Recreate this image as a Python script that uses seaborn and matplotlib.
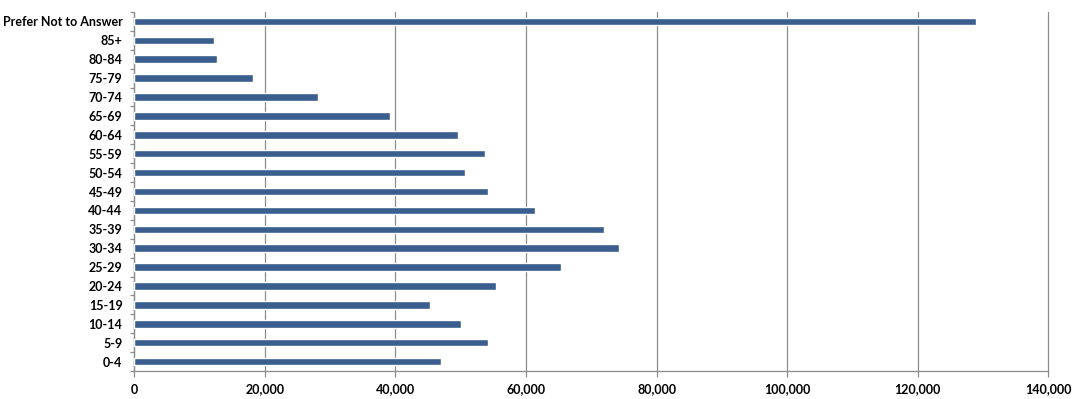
import pandas as pd
import numpy as np
import matplotlib.pyplot as plt
import seaborn as sns
from matplotlib.ticker import FuncFormatter, MultipleLocator

# ── Data ───────────────────────────────────────────────────────────────────────

age_groups = ["Prefer Not to Answer", "85+", "80-84", "75-79", "70-74", "65-69",
              "60-64", "55-59", "50-54", "45-49", "40-44", "35-39", "30-34",
              "25-29", "20-24", "15-19", "10-14", "5-9", "0-4"]
counts = [129000, 12200, 12700, 18200, 28100, 39200,
          49600, 53700, 50600, 54200, 61400, 71900, 74200,
          65300, 55400, 45300, 50000, 54200, 47000]

df = pd.DataFrame({"age": age_groups, "count": counts})

# ── Setup ──────────────────────────────────────────────────────────────────────

sns.set_theme(style="white")
plt.rcParams["font.family"] = ["Lato", "DejaVu Sans"]

fig = plt.figure(figsize=(10.79, 3.99), dpi=100)
ax = fig.add_axes([134.3 / 1079, 1 - 371 / 399, 914 / 1079, 359 / 399])

sns.barplot(data=df, x="count", y="age", order=age_groups, orient="h",
            color="#3A5F8F", saturation=1, width=0.4, ax=ax, zorder=3)

# ── Axes styling ───────────────────────────────────────────────────────────────

ax.set_xlim(0, 140000)
ax.set_ylim(len(age_groups) - 0.5, -0.5)
ax.xaxis.set_major_locator(MultipleLocator(20000))
ax.xaxis.set_major_formatter(FuncFormatter(lambda v, p: f"{int(v):,}"))
ax.grid(axis="x", color="#8C8C8C", linewidth=0.9, zorder=0)
ax.set_axisbelow(True)
for gl in ax.get_xgridlines():
    gl.set_clip_on(False)

for side in ["top", "right"]:
    ax.spines[side].set_visible(False)
for side in ["left", "bottom"]:
    ax.spines[side].set_color("#8C8C8C")
    ax.spines[side].set_linewidth(0.9)

ax.tick_params(axis="x", which="major", direction="out", length=4, width=0.9,
               color="#8C8C8C", pad=5, labelsize=9, bottom=True)
ax.set_yticks(np.arange(-0.5, len(age_groups)), minor=True)
ax.tick_params(axis="y", which="major", length=0, pad=8.5, labelsize=9)
ax.tick_params(axis="y", which="minor", direction="out", length=3, width=0.9,
               color="#8C8C8C", left=True)

for lbl in ax.get_xticklabels() + ax.get_yticklabels():
    lbl.set_fontweight("bold")
    lbl.set_color("#000000")

ax.set_xlabel("")
ax.set_ylabel("")

fig.savefig("out.png", dpi=100)
